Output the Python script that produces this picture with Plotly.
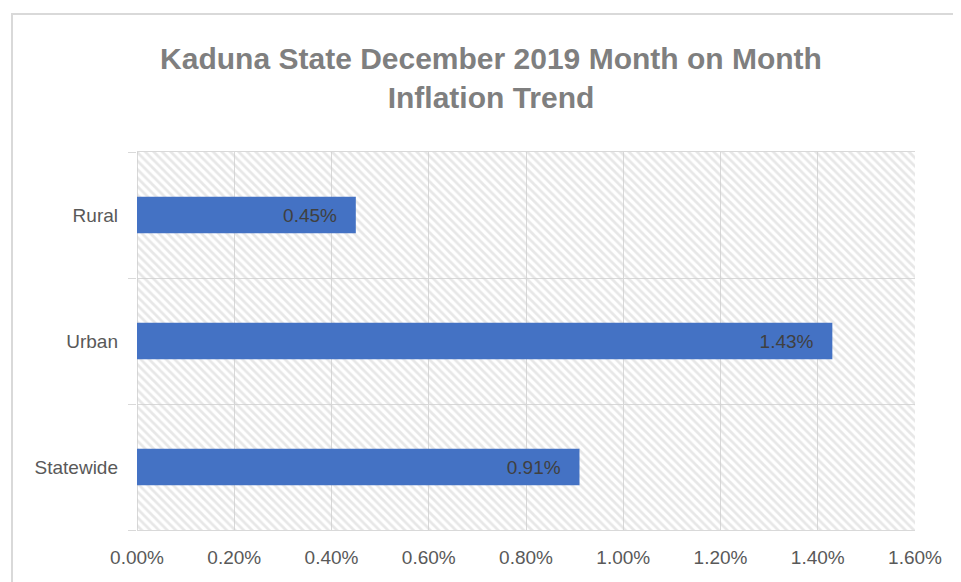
import plotly.graph_objects as go

# category order bottom -> top as in the picture
areas = ["Statewide", "Urban", "Rural"]
inflation = [0.0091, 0.0143, 0.0045]
x_ticks = [0, 0.002, 0.004, 0.006, 0.008, 0.010, 0.012, 0.014, 0.016]

FONT = "Liberation Sans, Arial, sans-serif"
GRID = "#d9d9d9"
pos = list(range(len(areas)))

# page body adds an 8px margin, so the figure is drawn 8px smaller
W, H = 953, 574

fig = go.Figure()

# hatched plot-area background
fig.add_trace(go.Bar(
    x=[x_ticks[-1]], y=[(pos[0] + pos[-1]) / 2], width=len(areas),
    orientation="h",
    marker=dict(color="rgba(0,0,0,0)", line_width=0,
                pattern=dict(shape="\\", fgcolor="#cfcfcf", bgcolor="rgba(0,0,0,0)",
                             size=6, solidity=0.45)),
    hoverinfo="skip", showlegend=False,
))

fig.add_trace(go.Bar(
    x=inflation, y=pos, orientation="h", width=0.29,
    marker=dict(color="#4472C4", line_width=0),
    texttemplate="%{x:.2%}\u00a0\u00a0\u00a0",
    textposition="inside", insidetextanchor="end",
    textfont=dict(family=FONT, size=19, color="#404040"),
    constraintext="none", showlegend=False, hoverinfo="skip",
))

fig.update_layout(
    width=W, height=H,
    margin=dict(l=129, r=46, t=144, b=52),
    paper_bgcolor="white", plot_bgcolor="white",
    barmode="overlay",
    font=dict(family=FONT, color="#595959", size=19),
    title=dict(
        text="<b>Kaduna State December 2019 Month on Month<br>Inflation Trend</b>",
        x=483 / W, xanchor="center", xref="container",
        y=1 - 61 / H, yanchor="top", yref="container",
        font=dict(family=FONT, size=30, color="#7f7f7f"),
    ),
    xaxis=dict(
        range=[x_ticks[0], x_ticks[-1]], tickvals=x_ticks, tickformat=".2%",
        showgrid=True, gridcolor=GRID, gridwidth=1,
        zeroline=True, zerolinecolor=GRID, zerolinewidth=1,
        showline=True, mirror=True, linecolor=GRID, linewidth=1,
        ticks="", ticklabelstandoff=10,
    ),
    yaxis=dict(
        range=[-0.5, len(areas) - 0.5], tickvals=pos, ticktext=areas,
        showgrid=False, zeroline=False, ticks="", ticklabelstandoff=18,
        minor=dict(tick0=0.5, dtick=1, showgrid=True, gridcolor=GRID,
                   ticks="outside", ticklen=8, tickcolor=GRID),
    ),
    shapes=[dict(
        type="rect", xref="paper", yref="paper",
        x0=(4 - 129) / 778, x1=1.3, y0=-0.5, y1=(H - 6 - 52) / 378,
        line=dict(color=GRID, width=2), fillcolor="rgba(0,0,0,0)", layer="below",
    )],
)

fig.write_html("out.html")
